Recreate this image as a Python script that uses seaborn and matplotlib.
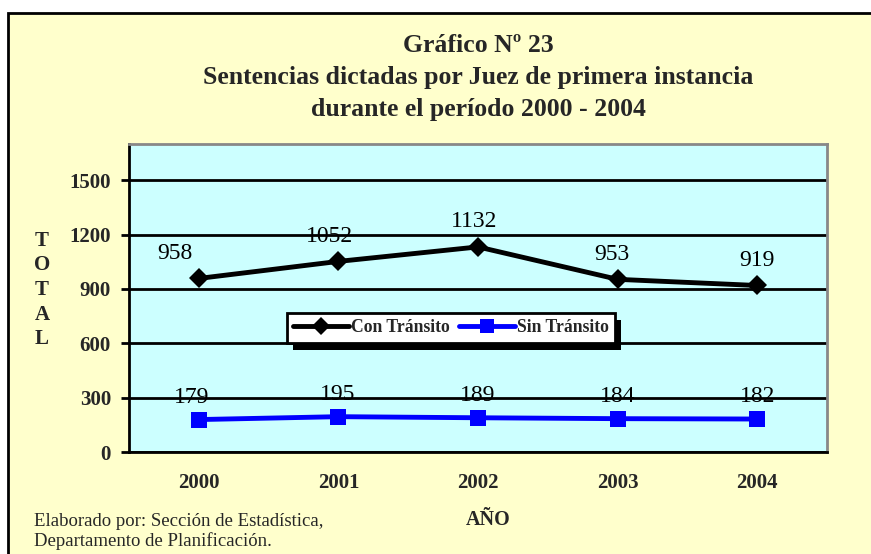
import matplotlib
matplotlib.use("Agg")
import matplotlib.pyplot as plt
from matplotlib.patches import Rectangle
from matplotlib.lines import Line2D
import pandas as pd
import seaborn as sns

# datos del gráfico
anios = ["2000", "2001", "2002", "2003", "2004"]
con_transito = [958, 1052, 1132, 953, 919]
sin_transito = [179, 195, 189, 184, 182]
series = ["Con Tránsito", "Sin Tránsito"]
yticks = [0, 300, 600, 900, 1200, 1500]

df = pd.DataFrame({
    "Año": anios * 2,
    "Total": con_transito + sin_transito,
    "Serie": [series[0]] * len(anios) + [series[1]] * len(anios),
})

sns.set_theme(style="white")
plt.rcParams["font.family"] = ["Liberation Serif", "DejaVu Serif"]

W, H = 871, 554
fig = plt.figure(figsize=(W / 100, H / 100), dpi=100)
fig.patch.set_facecolor("white")
# fondo amarillo con marco negro
fig.add_artist(Rectangle((8 / W, -0.1), 1.2, 1 - 13 / H + 0.1,
                         transform=fig.transFigure, facecolor="#FFFFCC",
                         edgecolor="black", linewidth=2, zorder=-1))

ax = fig.add_axes([129 / W, 1 - 452 / H, 698 / W, 308 / H])
ax.set_facecolor("#CCFFFF")

colores = {"Con Tránsito": "black", "Sin Tránsito": "#0000FF"}
marcas = {"Con Tránsito": "D", "Sin Tránsito": "s"}
tam = {"Con Tránsito": 10, "Sin Tránsito": 11}

for s in series:
    sns.lineplot(data=df[df["Serie"] == s], x="Año", y="Total", color=colores[s],
                 marker=marcas[s], markersize=tam[s], markeredgewidth=0,
                 linewidth=3.5, ax=ax, zorder=3)

# etiquetas de valores (ligero ajuste horizontal como en el original)
dx_con = [-24, -9, -4, -6, 0]
dx_sin = [-7, -1, 0, 0, 0]
for i, v in enumerate(con_transito):
    ax.annotate(str(v), (i, v), xytext=(dx_con[i] * 0.72, 14), textcoords="offset points",
                ha="center", va="baseline", fontsize=17, color="black", zorder=4)
for i, v in enumerate(sin_transito):
    ax.annotate(str(v), (i, v), xytext=(dx_sin[i] * 0.72, 12), textcoords="offset points",
                ha="center", va="baseline", fontsize=17, color="black", zorder=4)

ax.set_ylim(0, 1700)
ax.set_xlim(-0.5, len(anios) - 0.5)
ax.set_yticks(yticks)
ax.set_yticklabels([str(t) for t in yticks], fontweight="bold", fontsize=15)
ax.set_xticks(range(len(anios)))
ax.set_xticklabels(anios, fontweight="bold", fontsize=15)
ax.set_xticks([x - 0.5 for x in range(len(anios) + 1)], minor=True)
ax.tick_params(axis="x", which="major", length=0, pad=15)
ax.tick_params(axis="x", which="minor", length=6, width=2, color="black", direction="out")
ax.tick_params(axis="y", length=6, width=2, color="black", direction="out", left=True, pad=7)
ax.grid(axis="y", color="black", linewidth=2)
ax.set_axisbelow(True)
ax.set_xlabel("")
ax.set_ylabel("")

for lado in ["left", "bottom"]:
    ax.spines[lado].set_color("black")
    ax.spines[lado].set_linewidth(2)
for lado in ["top", "right"]:
    ax.spines[lado].set_color("#888888")
    ax.spines[lado].set_linewidth(2)

# leyenda
handles = [Line2D([], [], color=colores[s], marker=marcas[s], linewidth=3.5,
                  markersize=tam[s] - 1, markeredgewidth=0) for s in series]
leg = ax.legend(handles, series, loc="center", bbox_to_anchor=(0.461, 0.403), ncol=2,
                frameon=True, fancybox=False, handlelength=3.2, handletextpad=0.1,
                columnspacing=0.5, prop={"weight": "bold", "size": 12.7},
                borderpad=0.35)
leg.get_frame().set_edgecolor("black")
leg.get_frame().set_linewidth(2)
leg.get_frame().set_facecolor("white")
leg.get_frame().set_alpha(1)
leg.set_zorder(6)

# sombra negra de la leyenda
fig.canvas.draw()
bb = leg.get_window_extent().transformed(ax.transAxes.inverted())
ax.add_patch(Rectangle((bb.x0 + 6 / 698, bb.y0 - 7 / 308), bb.width, bb.height,
                       transform=ax.transAxes, facecolor="black", edgecolor="none",
                       zorder=5, clip_on=False))

# títulos y textos
titulo = ["Gráfico Nº 23",
          "Sentencias dictadas por Juez de primera instancia",
          "durante el período 2000 - 2004"]
for k, linea in enumerate(titulo):
    fig.text(478 / W, 1 - (45 + 32.5 * k) / H, linea, ha="center", va="center",
             fontsize=18.5, fontweight="bold")
fig.text(42 / W, 1 - 290 / H, "T\nO\nT\nA\nL", ha="center", va="center",
         fontsize=15, fontweight="bold", linespacing=1.3)
fig.text(488 / W, 1 - 520 / H, "AÑO", ha="center", va="center",
         fontsize=14.5, fontweight="bold")
fig.text(34 / W, 1 - 521 / H, "Elaborado por: Sección de Estadística,", ha="left",
         va="center", fontsize=13.5)
fig.text(34 / W, 1 - 541 / H, "Departamento de Planificación.", ha="left",
         va="center", fontsize=13.5)

fig.savefig("out.png", dpi=100)
